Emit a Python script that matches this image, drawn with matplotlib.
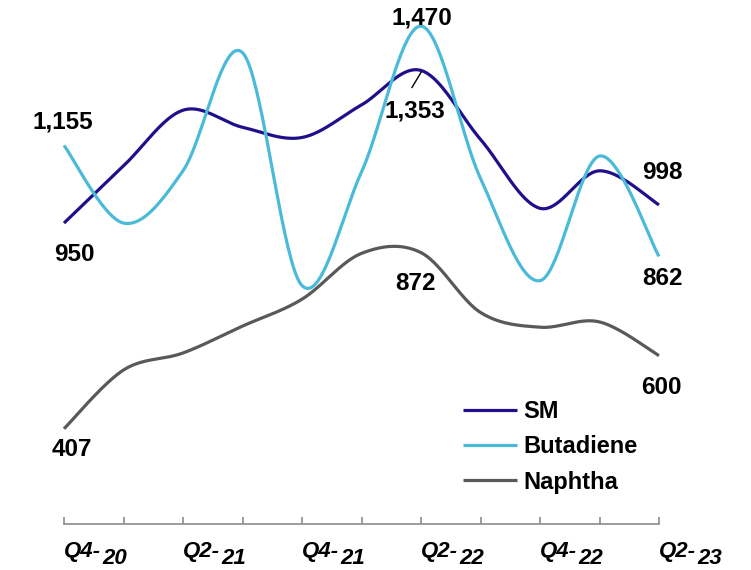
import matplotlib
matplotlib.use("Agg")
import matplotlib.pyplot as plt
import numpy as np

quarters = ["Q4-20", "Q1-21", "Q2-21", "Q3-21", "Q4-21", "Q1-22",
            "Q2-22", "Q3-22", "Q4-22", "Q1-23", "Q2-23"]
sm = [950, 1101, 1248, 1203, 1176, 1262, 1353, 1171, 989, 1088, 998]
butadiene = [1155, 950, 1088, 1400, 785, 1085, 1470, 1068, 798, 1127, 862]
naphtha = [407, 562, 607, 678, 749, 870, 872, 714, 675, 689, 600]

C_SM = "#1f0f8a"
C_BD = "#4bbad9"
C_NA = "#595959"


def smooth(xs, ys, n=40):
    # excel style smoothed line (catmull-rom as bezier segments)
    p = np.column_stack([xs, ys]).astype(float)
    p = np.vstack([p[0], p, p[-1]])
    out = []
    t = np.linspace(0, 1, n)[:, None]
    for i in range(1, len(p) - 2):
        p0, p1, p2, p3 = p[i - 1], p[i], p[i + 1], p[i + 2]
        c1 = p1 + (p2 - p0) / 6
        c2 = p2 - (p3 - p1) / 6
        seg = ((1 - t) ** 3) * p1 + 3 * ((1 - t) ** 2) * t * c1 \
            + 3 * (1 - t) * t ** 2 * c2 + t ** 3 * p2
        out.append(seg if i == 1 else seg[1:])
    out = np.vstack(out)
    return out[:, 0], out[:, 1]


fig = plt.figure(figsize=(7.51, 5.70), dpi=100)
ax = fig.add_axes([0, 0, 1, 1])
x = np.arange(len(quarters))

for vals, col, name in [(sm, C_SM, "SM"), (butadiene, C_BD, "Butadiene"),
                        (naphtha, C_NA, "Naphtha")]:
    sx, sy = smooth(x, vals)
    ax.plot(sx, sy, color=col, lw=2.3, label=name, solid_capstyle="butt")

ax.set_xlim(-64 / 59.5, 10 + 92 / 59.5)
ax.set_ylim(34, 1539)

# x axis
for s in ["top", "right", "left"]:
    ax.spines[s].set_visible(False)
ax.spines["bottom"].set_position(("data", 155))
ax.spines["bottom"].set_bounds(0, 10)
ax.spines["bottom"].set_color("#8c8c8c")
ax.spines["bottom"].set_linewidth(1.2)
ax.set_yticks([])
ax.set_xticks(x)
ax.set_xticklabels([])
ax.tick_params(axis="x", direction="in", length=5, width=1.2, color="#8c8c8c")

lab_font = dict(family="Liberation Sans", weight="bold", style="italic",
                fontsize=16, color="black")
for i in range(0, len(quarters), 2):
    q, yr = quarters[i].split("-")
    ax.annotate(q + "-", (x[i], 155), xytext=(0, -33), textcoords="offset pixels",
                ha="left", va="baseline", **lab_font)
    ax.annotate(yr, (x[i], 155), xytext=(38, -40), textcoords="offset pixels",
                ha="left", va="baseline", **lab_font)

# data labels
vfont = dict(family="Liberation Sans", weight="bold", fontsize=17.5,
             color="black", ha="center", va="center")


def fmt(v):
    return f"{v:,}"


ax.annotate(fmt(butadiene[0]), (x[0], butadiene[0]), xytext=(-1, 23),
            textcoords="offset pixels", **vfont)
ax.annotate(fmt(sm[0]), (x[0], sm[0]), xytext=(10, -31),
            textcoords="offset pixels", **vfont)
ax.annotate(fmt(naphtha[0]), (x[0], naphtha[0]), xytext=(8, -21),
            textcoords="offset pixels", **vfont)
ax.annotate(fmt(butadiene[6]), (x[6], butadiene[6]), xytext=(1, 8),
            textcoords="offset pixels", **vfont)
ax.annotate(fmt(sm[6]), (x[6], sm[6]), xytext=(-6, -41),
            textcoords="offset pixels", **vfont)
ax.plot([x[6] - 9 / 59.5, x[6]], [sm[6] - 17 * 2.64, sm[6] - 2 * 2.64],
        color="black", lw=1)
ax.annotate(fmt(naphtha[6]), (x[6], naphtha[6]), xytext=(-6, -31),
            textcoords="offset pixels", **vfont)
ax.annotate(fmt(sm[10]), (x[10], sm[10]), xytext=(3, 32),
            textcoords="offset pixels", **vfont)
ax.annotate(fmt(butadiene[10]), (x[10], butadiene[10]), xytext=(3, -22),
            textcoords="offset pixels", **vfont)
ax.annotate(fmt(naphtha[10]), (x[10], naphtha[10]), xytext=(2, -32),
            textcoords="offset pixels", **vfont)

leg = ax.legend(loc="upper left", bbox_to_anchor=(463 / 751, 1 - 400 / 570),
                frameon=False, handlelength=2.3, handletextpad=0.25,
                labelspacing=0.52, borderpad=0, borderaxespad=0,
                prop=dict(family="Liberation Sans", weight="bold", size=17))

fig.savefig("out.png", dpi=100)
